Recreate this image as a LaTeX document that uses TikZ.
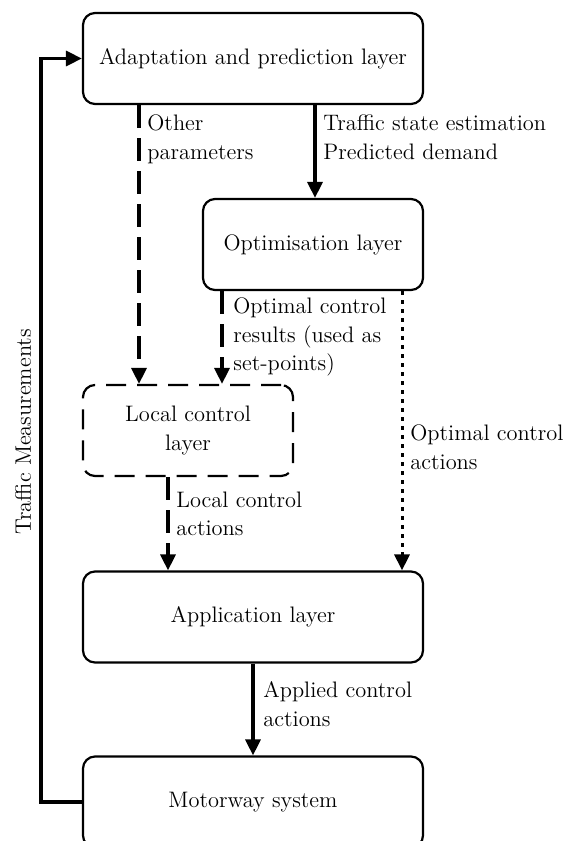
\documentclass[tikz,border=0pt]{standalone}
\usetikzlibrary{arrows.meta}
\begin{document}
\begin{tikzpicture}[x=0.5pt,y=-0.5pt,
  font=\fontsize{11.2}{14.3}\selectfont,
  box/.style={draw, line width=1.1pt, rounded corners=6pt, minimum height=45.5pt, inner sep=0pt, align=center},
  tip/.style={-{Triangle[width=7.5pt,length=8pt]}},
  arr/.style={line width=1.6pt, tip},
  dsh/.style={arr, dash pattern=on 11.5pt off 5pt},
  dot/.style={line width=1.5pt, dash pattern=on 2pt off 2.5pt, tip},
  lbl/.style={inner sep=0pt, anchor=west, align=left}]
\useasboundingbox (0,0) rectangle (567,841);
\clip (0,0) rectangle (567,841);
\node[box, minimum width=170pt] (adapt) at (253,58.5) {Adaptation and prediction layer};
\node[box, minimum width=110pt] (opt) at (313,244.5) {Optimisation layer};
\node[box, minimum width=105pt, dash pattern=on 10pt off 5.5pt] (local) at (188,430.5) {Local control\\layer};
\node[box, minimum width=170pt] (app) at (253,617) {Application layer};
\node[box, minimum width=170pt] (motor) at (253,802) {Motorway system};
\coordinate (xa) at (139,0);
\coordinate (xb) at (222,0);
\coordinate (xc) at (402,0);
\coordinate (xd) at (168,0);
\coordinate (xt) at (315,0);
\draw[arr] (adapt.south -| xt) -- (opt.north -| xt);
\draw[dsh] (adapt.south -| xa) -- (local.north -| xa);
\draw[dsh] (opt.south -| xb) -- (local.north -| xb);
\draw[dot] (opt.south -| xc) -- (app.north -| xc);
\draw[dsh] (local.south -| xd) -- (app.north -| xd);
\draw[arr] (app.south) -- (motor.north);
\draw[arr] (motor.west) -- ++(-41,0) |- (adapt.west);
\node[lbl] (l1) at (323,137.5) {Traffic state estimation\\Predicted demand};
\node[lbl] (l2) at (147,139) {Other\\parameters};
\node[lbl] (l3) at (233,337) {Optimal control\\results (used as\\set-points)};
\node[lbl] (l4) at (410,447.5) {Optimal control\\actions};
\node[lbl] (l5) at (176,514) {Local control\\actions};
\node[lbl] (l6) at (263,704) {Applied control\\actions};
\node[rotate=90, inner sep=0pt] (l7) at (23,432) {Traffic Measurements};
\end{tikzpicture}
\end{document}
